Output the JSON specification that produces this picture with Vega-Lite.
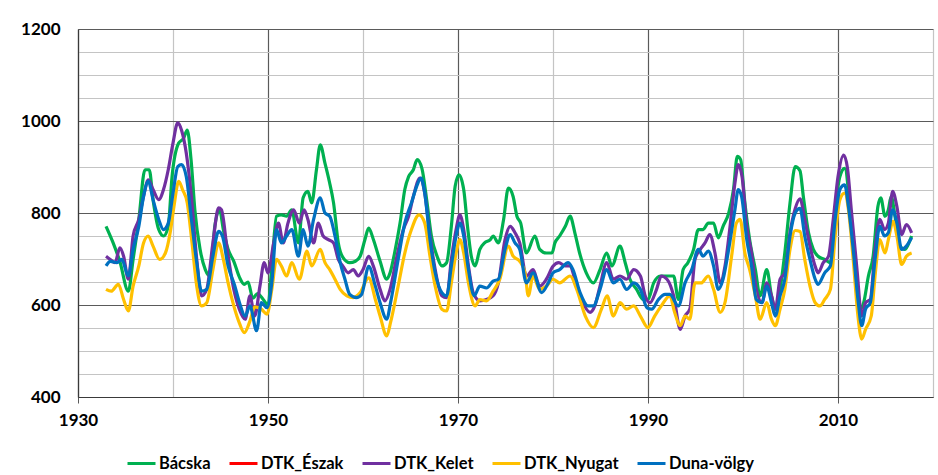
{
  "$schema": "https://vega.github.io/schema/vega-lite/v6.json",
  "width": 855,
  "height": 368,
  "autosize": {"type": "none"},
  "padding": {"left": 78, "top": 29, "right": 5, "bottom": 78},
  "background": "white",
  "config": {
    "view": {"stroke": null},
    "font": "Lato",
    "axis": {"labelFont": "Lato", "labelFontWeight": "bold", "labelFontSize": 17, "labelColor": "#000000", "domainColor": "#3a3a3a", "domainWidth": 1.2, "title": null},
    "legend": {"labelFont": "Lato", "labelFontWeight": "bold", "labelFontSize": 16.5, "labelColor": "#000000"}
  },
  "datasets": {
    "rows": [
{"series":"Bácska","year":1932.95,"value":771},{"series":"Bácska","year":1933.7,"value":735},{"series":"Bácska","year":1934.4,"value":695},{"series":"Bácska","year":1935.3,"value":630},{"series":"Bácska","year":1935.8,"value":699},{"series":"Bácska","year":1936.4,"value":786},{"series":"Bácska","year":1937.05,"value":894},{"series":"Bácska","year":1937.5,"value":894},{"series":"Bácska","year":1937.9,"value":829},{"series":"Bácska","year":1938.5,"value":764},{"series":"Bácska","year":1939.0,"value":750},{"series":"Bácska","year":1939.5,"value":771},{"series":"Bácska","year":1939.9,"value":879},{"series":"Bácska","year":1940.6,"value":952},{"series":"Bácska","year":1941.1,"value":962},{"series":"Bácska","year":1941.5,"value":980},{"series":"Bácska","year":1941.9,"value":916},{"series":"Bácska","year":1942.3,"value":807},{"series":"Bácska","year":1942.85,"value":721},{"series":"Bácska","year":1943.4,"value":677},{"series":"Bácska","year":1943.9,"value":663},{"series":"Bácska","year":1944.4,"value":771},{"series":"Bácska","year":1944.9,"value":807},{"series":"Bácska","year":1945.3,"value":764},{"series":"Bácska","year":1945.8,"value":721},{"series":"Bácska","year":1946.4,"value":695},{"series":"Bácska","year":1947.0,"value":660},{"series":"Bácska","year":1947.5,"value":645},{"series":"Bácska","year":1947.9,"value":650},{"series":"Bácska","year":1948.4,"value":615},{"series":"Bácska","year":1948.9,"value":625},{"series":"Bácska","year":1949.5,"value":612},{"series":"Bácska","year":1950.0,"value":600},{"series":"Bácska","year":1950.4,"value":684},{"series":"Bácska","year":1950.9,"value":793},{"series":"Bácska","year":1951.4,"value":796},{"series":"Bácska","year":1951.96,"value":793},{"series":"Bácska","year":1952.5,"value":807},{"series":"Bácska","year":1953.2,"value":735},{"series":"Bácska","year":1953.7,"value":833},{"series":"Bácska","year":1954.2,"value":847},{"series":"Bácska","year":1954.6,"value":822},{"series":"Bácska","year":1955.1,"value":894},{"series":"Bácska","year":1955.5,"value":948},{"series":"Bácska","year":1956.0,"value":908},{"series":"Bácska","year":1956.45,"value":869},{"series":"Bácska","year":1956.9,"value":822},{"series":"Bácska","year":1957.4,"value":735},{"series":"Bácska","year":1957.9,"value":703},{"series":"Bácska","year":1958.6,"value":692},{"series":"Bácska","year":1959.2,"value":695},{"series":"Bácska","year":1959.7,"value":706},{"series":"Bácska","year":1960.2,"value":742},{"series":"Bácska","year":1960.6,"value":767},{"series":"Bácska","year":1961.1,"value":742},{"series":"Bácska","year":1961.8,"value":695},{"series":"Bácska","year":1962.5,"value":656},{"series":"Bácska","year":1962.85,"value":670},{"series":"Bácska","year":1963.4,"value":721},{"series":"Bácska","year":1963.9,"value":778},{"series":"Bácska","year":1964.4,"value":851},{"series":"Bácska","year":1964.8,"value":879},{"series":"Bácska","year":1965.3,"value":894},{"series":"Bácska","year":1965.7,"value":916},{"series":"Bácska","year":1966.2,"value":897},{"series":"Bácska","year":1966.7,"value":829},{"series":"Bácska","year":1967.2,"value":750},{"series":"Bácska","year":1967.8,"value":706},{"series":"Bácska","year":1968.3,"value":685},{"series":"Bácska","year":1968.8,"value":692},{"series":"Bácska","year":1969.3,"value":771},{"series":"Bácska","year":1969.7,"value":858},{"series":"Bácska","year":1970.1,"value":883},{"series":"Bácska","year":1970.6,"value":851},{"series":"Bácska","year":1971.0,"value":771},{"series":"Bácska","year":1971.4,"value":706},{"series":"Bácska","year":1971.8,"value":685},{"series":"Bácska","year":1972.3,"value":721},{"series":"Bácska","year":1972.8,"value":735},{"series":"Bácska","year":1973.4,"value":742},{"series":"Bácska","year":1973.7,"value":750},{"series":"Bácska","year":1974.25,"value":735},{"series":"Bácska","year":1974.8,"value":786},{"series":"Bácska","year":1975.3,"value":854},{"series":"Bácska","year":1975.8,"value":836},{"series":"Bácska","year":1976.2,"value":793},{"series":"Bácska","year":1976.6,"value":778},{"series":"Bácska","year":1977.2,"value":713},{"series":"Bácska","year":1978.1,"value":750},{"series":"Bácska","year":1978.6,"value":721},{"series":"Bácska","year":1979.3,"value":713},{"series":"Bácska","year":1979.9,"value":713},{"series":"Bácska","year":1980.2,"value":735},{"series":"Bácska","year":1980.7,"value":750},{"series":"Bácska","year":1981.3,"value":771},{"series":"Bácska","year":1981.8,"value":793},{"series":"Bácska","year":1982.3,"value":757},{"series":"Bácska","year":1982.8,"value":713},{"series":"Bácska","year":1983.5,"value":670},{"series":"Bácska","year":1984.25,"value":648},{"series":"Bácska","year":1984.95,"value":677},{"series":"Bácska","year":1985.65,"value":713},{"series":"Bácska","year":1986.2,"value":685},{"series":"Bácska","year":1987.05,"value":728},{"series":"Bácska","year":1987.6,"value":692},{"series":"Bácska","year":1988.1,"value":656},{"series":"Bácska","year":1988.8,"value":634},{"series":"Bácska","year":1989.5,"value":612},{"series":"Bácska","year":1990.0,"value":612},{"series":"Bácska","year":1990.6,"value":648},{"series":"Bácska","year":1991.3,"value":663},{"series":"Bácska","year":1992.0,"value":663},{"series":"Bácska","year":1992.7,"value":663},{"series":"Bácska","year":1993.2,"value":612},{"series":"Bácska","year":1993.7,"value":677},{"series":"Bácska","year":1994.2,"value":692},{"series":"Bácska","year":1994.8,"value":721},{"series":"Bácska","year":1995.3,"value":764},{"series":"Bácska","year":1995.8,"value":764},{"series":"Bácska","year":1996.35,"value":778},{"series":"Bácska","year":1996.9,"value":778},{"series":"Bácska","year":1997.4,"value":746},{"series":"Bácska","year":1997.9,"value":771},{"series":"Bácska","year":1998.5,"value":800},{"series":"Bácska","year":1999.0,"value":851},{"series":"Bácska","year":1999.4,"value":923},{"series":"Bácska","year":1999.75,"value":916},{"series":"Bácska","year":2000.2,"value":822},{"series":"Bácska","year":2000.7,"value":742},{"series":"Bácska","year":2001.3,"value":677},{"series":"Bácska","year":2001.8,"value":620},{"series":"Bácska","year":2002.5,"value":677},{"series":"Bácska","year":2003.0,"value":620},{"series":"Bácska","year":2003.4,"value":591},{"series":"Bácska","year":2003.9,"value":634},{"series":"Bácska","year":2004.4,"value":713},{"series":"Bácska","year":2004.95,"value":822},{"series":"Bácska","year":2005.5,"value":901},{"series":"Bácska","year":2006.0,"value":892},{"series":"Bácska","year":2006.35,"value":836},{"series":"Bácska","year":2006.9,"value":757},{"series":"Bácska","year":2007.4,"value":721},{"series":"Bácska","year":2007.9,"value":706},{"series":"Bácska","year":2008.6,"value":699},{"series":"Bácska","year":2009.2,"value":692},{"series":"Bácska","year":2009.7,"value":807},{"series":"Bácska","year":2010.2,"value":879},{"series":"Bácska","year":2010.7,"value":897},{"series":"Bácska","year":2011.3,"value":807},{"series":"Bácska","year":2011.8,"value":699},{"series":"Bácska","year":2012.3,"value":591},{"series":"Bácska","year":2012.7,"value":605},{"series":"Bácska","year":2013.2,"value":663},{"series":"Bácska","year":2013.7,"value":706},{"series":"Bácska","year":2014.2,"value":814},{"series":"Bácska","year":2014.5,"value":833},{"series":"Bácska","year":2014.95,"value":793},{"series":"Bácska","year":2015.3,"value":807},{"series":"Bácska","year":2015.6,"value":836},{"series":"Bácska","year":2016.0,"value":793},{"series":"Bácska","year":2016.5,"value":728},{"series":"Bácska","year":2017.05,"value":721},{"series":"Bácska","year":2017.6,"value":742},{"series":"Bácska","year":2017.75,"value":750},
{"series":"DTK_Kelet","year":1932.95,"value":706},{"series":"DTK_Kelet","year":1933.4,"value":699},{"series":"DTK_Kelet","year":1933.9,"value":692},{"series":"DTK_Kelet","year":1934.4,"value":724},{"series":"DTK_Kelet","year":1934.8,"value":706},{"series":"DTK_Kelet","year":1935.3,"value":656},{"series":"DTK_Kelet","year":1935.8,"value":750},{"series":"DTK_Kelet","year":1936.4,"value":786},{"series":"DTK_Kelet","year":1936.9,"value":836},{"series":"DTK_Kelet","year":1937.4,"value":872},{"series":"DTK_Kelet","year":1937.9,"value":851},{"series":"DTK_Kelet","year":1938.5,"value":829},{"series":"DTK_Kelet","year":1939.0,"value":851},{"series":"DTK_Kelet","year":1939.5,"value":894},{"series":"DTK_Kelet","year":1940.0,"value":952},{"series":"DTK_Kelet","year":1940.5,"value":996},{"series":"DTK_Kelet","year":1940.9,"value":980},{"series":"DTK_Kelet","year":1941.4,"value":930},{"series":"DTK_Kelet","year":1941.9,"value":843},{"series":"DTK_Kelet","year":1942.5,"value":699},{"series":"DTK_Kelet","year":1943.0,"value":620},{"series":"DTK_Kelet","year":1943.55,"value":634},{"series":"DTK_Kelet","year":1944.2,"value":735},{"series":"DTK_Kelet","year":1944.8,"value":811},{"series":"DTK_Kelet","year":1945.1,"value":807},{"series":"DTK_Kelet","year":1945.7,"value":721},{"series":"DTK_Kelet","year":1946.4,"value":634},{"series":"DTK_Kelet","year":1947.0,"value":590},{"series":"DTK_Kelet","year":1947.6,"value":569},{"series":"DTK_Kelet","year":1948.1,"value":620},{"series":"DTK_Kelet","year":1948.6,"value":576},{"series":"DTK_Kelet","year":1949.15,"value":641},{"series":"DTK_Kelet","year":1949.6,"value":692},{"series":"DTK_Kelet","year":1950.0,"value":670},{"series":"DTK_Kelet","year":1950.6,"value":735},{"series":"DTK_Kelet","year":1951.1,"value":778},{"series":"DTK_Kelet","year":1951.6,"value":735},{"series":"DTK_Kelet","year":1952.1,"value":778},{"series":"DTK_Kelet","year":1952.7,"value":807},{"series":"DTK_Kelet","year":1953.3,"value":778},{"series":"DTK_Kelet","year":1953.8,"value":807},{"series":"DTK_Kelet","year":1954.2,"value":786},{"series":"DTK_Kelet","year":1954.8,"value":735},{"series":"DTK_Kelet","year":1955.3,"value":778},{"series":"DTK_Kelet","year":1955.8,"value":750},{"series":"DTK_Kelet","year":1956.35,"value":742},{"series":"DTK_Kelet","year":1956.9,"value":735},{"series":"DTK_Kelet","year":1957.4,"value":699},{"series":"DTK_Kelet","year":1957.9,"value":684},{"series":"DTK_Kelet","year":1958.45,"value":670},{"series":"DTK_Kelet","year":1958.98,"value":677},{"series":"DTK_Kelet","year":1959.5,"value":663},{"series":"DTK_Kelet","year":1960.0,"value":677},{"series":"DTK_Kelet","year":1960.6,"value":706},{"series":"DTK_Kelet","year":1961.1,"value":684},{"series":"DTK_Kelet","year":1961.8,"value":634},{"series":"DTK_Kelet","year":1962.3,"value":609},{"series":"DTK_Kelet","year":1962.85,"value":634},{"series":"DTK_Kelet","year":1963.5,"value":699},{"series":"DTK_Kelet","year":1964.25,"value":764},{"series":"DTK_Kelet","year":1964.8,"value":793},{"series":"DTK_Kelet","year":1965.3,"value":836},{"series":"DTK_Kelet","year":1966.0,"value":876},{"series":"DTK_Kelet","year":1966.5,"value":843},{"series":"DTK_Kelet","year":1967.05,"value":750},{"series":"DTK_Kelet","year":1967.6,"value":677},{"series":"DTK_Kelet","year":1968.3,"value":620},{"series":"DTK_Kelet","year":1968.8,"value":616},{"series":"DTK_Kelet","year":1969.3,"value":699},{"series":"DTK_Kelet","year":1969.8,"value":764},{"series":"DTK_Kelet","year":1970.2,"value":796},{"series":"DTK_Kelet","year":1970.6,"value":764},{"series":"DTK_Kelet","year":1971.1,"value":685},{"series":"DTK_Kelet","year":1971.6,"value":627},{"series":"DTK_Kelet","year":1972.3,"value":609},{"series":"DTK_Kelet","year":1973.0,"value":612},{"series":"DTK_Kelet","year":1973.7,"value":620},{"series":"DTK_Kelet","year":1974.25,"value":648},{"series":"DTK_Kelet","year":1974.95,"value":742},{"series":"DTK_Kelet","year":1975.5,"value":771},{"series":"DTK_Kelet","year":1976.0,"value":757},{"series":"DTK_Kelet","year":1976.5,"value":735},{"series":"DTK_Kelet","year":1977.2,"value":663},{"series":"DTK_Kelet","year":1977.9,"value":677},{"series":"DTK_Kelet","year":1978.6,"value":641},{"series":"DTK_Kelet","year":1979.3,"value":656},{"series":"DTK_Kelet","year":1980.0,"value":684},{"series":"DTK_Kelet","year":1980.6,"value":692},{"series":"DTK_Kelet","year":1981.3,"value":685},{"series":"DTK_Kelet","year":1981.8,"value":685},{"series":"DTK_Kelet","year":1982.3,"value":656},{"series":"DTK_Kelet","year":1983.0,"value":612},{"series":"DTK_Kelet","year":1983.9,"value":584},{"series":"DTK_Kelet","year":1984.4,"value":598},{"series":"DTK_Kelet","year":1984.95,"value":641},{"series":"DTK_Kelet","year":1985.65,"value":692},{"series":"DTK_Kelet","year":1986.35,"value":656},{"series":"DTK_Kelet","year":1987.05,"value":663},{"series":"DTK_Kelet","year":1987.75,"value":656},{"series":"DTK_Kelet","year":1988.5,"value":677},{"series":"DTK_Kelet","year":1989.2,"value":663},{"series":"DTK_Kelet","year":1989.7,"value":620},{"series":"DTK_Kelet","year":1990.2,"value":605},{"series":"DTK_Kelet","year":1990.9,"value":634},{"series":"DTK_Kelet","year":1991.4,"value":663},{"series":"DTK_Kelet","year":1992.0,"value":656},{"series":"DTK_Kelet","year":1992.7,"value":620},{"series":"DTK_Kelet","year":1993.4,"value":547},{"series":"DTK_Kelet","year":1993.9,"value":576},{"series":"DTK_Kelet","year":1994.4,"value":591},{"series":"DTK_Kelet","year":1994.95,"value":699},{"series":"DTK_Kelet","year":1995.5,"value":721},{"series":"DTK_Kelet","year":1996.0,"value":735},{"series":"DTK_Kelet","year":1996.5,"value":753},{"series":"DTK_Kelet","year":1997.05,"value":713},{"series":"DTK_Kelet","year":1997.6,"value":648},{"series":"DTK_Kelet","year":1998.1,"value":684},{"series":"DTK_Kelet","year":1998.6,"value":764},{"series":"DTK_Kelet","year":1999.15,"value":865},{"series":"DTK_Kelet","year":1999.5,"value":905},{"series":"DTK_Kelet","year":1999.9,"value":879},{"series":"DTK_Kelet","year":2000.4,"value":771},{"series":"DTK_Kelet","year":2000.9,"value":713},{"series":"DTK_Kelet","year":2001.4,"value":634},{"series":"DTK_Kelet","year":2002.0,"value":605},{"series":"DTK_Kelet","year":2002.5,"value":648},{"series":"DTK_Kelet","year":2003.0,"value":620},{"series":"DTK_Kelet","year":2003.4,"value":591},{"series":"DTK_Kelet","year":2003.9,"value":656},{"series":"DTK_Kelet","year":2004.4,"value":670},{"series":"DTK_Kelet","year":2004.95,"value":757},{"series":"DTK_Kelet","year":2005.5,"value":810},{"series":"DTK_Kelet","year":2006.0,"value":831},{"series":"DTK_Kelet","year":2006.5,"value":786},{"series":"DTK_Kelet","year":2007.05,"value":728},{"series":"DTK_Kelet","year":2007.6,"value":684},{"series":"DTK_Kelet","year":2007.9,"value":670},{"series":"DTK_Kelet","year":2008.45,"value":692},{"series":"DTK_Kelet","year":2009.0,"value":706},{"series":"DTK_Kelet","year":2009.5,"value":786},{"series":"DTK_Kelet","year":2010.0,"value":879},{"series":"DTK_Kelet","year":2010.6,"value":926},{"series":"DTK_Kelet","year":2011.0,"value":897},{"series":"DTK_Kelet","year":2011.4,"value":807},{"series":"DTK_Kelet","year":2012.0,"value":677},{"series":"DTK_Kelet","year":2012.5,"value":576},{"series":"DTK_Kelet","year":2012.9,"value":605},{"series":"DTK_Kelet","year":2013.4,"value":612},{"series":"DTK_Kelet","year":2013.9,"value":721},{"series":"DTK_Kelet","year":2014.4,"value":786},{"series":"DTK_Kelet","year":2014.9,"value":764},{"series":"DTK_Kelet","year":2015.3,"value":778},{"series":"DTK_Kelet","year":2015.75,"value":847},{"series":"DTK_Kelet","year":2016.2,"value":814},{"series":"DTK_Kelet","year":2016.7,"value":753},{"series":"DTK_Kelet","year":2017.2,"value":775},{"series":"DTK_Kelet","year":2017.75,"value":757},
{"series":"DTK_Nyugat","year":1932.95,"value":634},{"series":"DTK_Nyugat","year":1933.5,"value":630},{"series":"DTK_Nyugat","year":1934.25,"value":645},{"series":"DTK_Nyugat","year":1934.8,"value":612},{"series":"DTK_Nyugat","year":1935.3,"value":587},{"series":"DTK_Nyugat","year":1935.8,"value":641},{"series":"DTK_Nyugat","year":1936.4,"value":685},{"series":"DTK_Nyugat","year":1936.9,"value":735},{"series":"DTK_Nyugat","year":1937.4,"value":750},{"series":"DTK_Nyugat","year":1937.9,"value":728},{"series":"DTK_Nyugat","year":1938.6,"value":699},{"series":"DTK_Nyugat","year":1939.2,"value":713},{"series":"DTK_Nyugat","year":1939.7,"value":757},{"series":"DTK_Nyugat","year":1940.1,"value":814},{"series":"DTK_Nyugat","year":1940.6,"value":869},{"series":"DTK_Nyugat","year":1941.0,"value":851},{"series":"DTK_Nyugat","year":1941.5,"value":822},{"series":"DTK_Nyugat","year":1942.0,"value":735},{"series":"DTK_Nyugat","year":1942.5,"value":641},{"series":"DTK_Nyugat","year":1943.0,"value":598},{"series":"DTK_Nyugat","year":1943.55,"value":605},{"series":"DTK_Nyugat","year":1944.2,"value":677},{"series":"DTK_Nyugat","year":1944.8,"value":735},{"series":"DTK_Nyugat","year":1945.3,"value":699},{"series":"DTK_Nyugat","year":1945.8,"value":648},{"series":"DTK_Nyugat","year":1946.4,"value":598},{"series":"DTK_Nyugat","year":1947.0,"value":560},{"series":"DTK_Nyugat","year":1947.5,"value":540},{"series":"DTK_Nyugat","year":1948.1,"value":565},{"series":"DTK_Nyugat","year":1948.6,"value":596},{"series":"DTK_Nyugat","year":1949.3,"value":591},{"series":"DTK_Nyugat","year":1949.9,"value":580},{"series":"DTK_Nyugat","year":1950.4,"value":634},{"series":"DTK_Nyugat","year":1950.9,"value":699},{"series":"DTK_Nyugat","year":1951.4,"value":685},{"series":"DTK_Nyugat","year":1951.96,"value":663},{"series":"DTK_Nyugat","year":1952.5,"value":692},{"series":"DTK_Nyugat","year":1953.3,"value":656},{"series":"DTK_Nyugat","year":1954.1,"value":717},{"series":"DTK_Nyugat","year":1954.6,"value":685},{"series":"DTK_Nyugat","year":1955.5,"value":721},{"series":"DTK_Nyugat","year":1956.0,"value":692},{"series":"DTK_Nyugat","year":1956.5,"value":677},{"series":"DTK_Nyugat","year":1957.05,"value":656},{"series":"DTK_Nyugat","year":1957.6,"value":634},{"series":"DTK_Nyugat","year":1958.3,"value":620},{"series":"DTK_Nyugat","year":1958.98,"value":616},{"series":"DTK_Nyugat","year":1959.7,"value":627},{"series":"DTK_Nyugat","year":1960.6,"value":659},{"series":"DTK_Nyugat","year":1961.3,"value":612},{"series":"DTK_Nyugat","year":1961.8,"value":576},{"series":"DTK_Nyugat","year":1962.5,"value":533},{"series":"DTK_Nyugat","year":1962.9,"value":562},{"series":"DTK_Nyugat","year":1963.7,"value":641},{"series":"DTK_Nyugat","year":1964.4,"value":713},{"series":"DTK_Nyugat","year":1965.1,"value":764},{"series":"DTK_Nyugat","year":1965.9,"value":796},{"series":"DTK_Nyugat","year":1966.5,"value":778},{"series":"DTK_Nyugat","year":1967.05,"value":706},{"series":"DTK_Nyugat","year":1967.6,"value":641},{"series":"DTK_Nyugat","year":1968.3,"value":591},{"series":"DTK_Nyugat","year":1968.8,"value":587},{"series":"DTK_Nyugat","year":1969.3,"value":648},{"series":"DTK_Nyugat","year":1969.8,"value":713},{"series":"DTK_Nyugat","year":1970.2,"value":742},{"series":"DTK_Nyugat","year":1970.6,"value":713},{"series":"DTK_Nyugat","year":1971.1,"value":648},{"series":"DTK_Nyugat","year":1971.8,"value":598},{"series":"DTK_Nyugat","year":1972.3,"value":612},{"series":"DTK_Nyugat","year":1973.0,"value":609},{"series":"DTK_Nyugat","year":1973.7,"value":630},{"series":"DTK_Nyugat","year":1974.4,"value":656},{"series":"DTK_Nyugat","year":1975.3,"value":728},{"series":"DTK_Nyugat","year":1975.8,"value":706},{"series":"DTK_Nyugat","year":1976.5,"value":695},{"series":"DTK_Nyugat","year":1977.05,"value":670},{"series":"DTK_Nyugat","year":1977.4,"value":620},{"series":"DTK_Nyugat","year":1977.9,"value":663},{"series":"DTK_Nyugat","year":1978.6,"value":634},{"series":"DTK_Nyugat","year":1979.3,"value":641},{"series":"DTK_Nyugat","year":1980.0,"value":656},{"series":"DTK_Nyugat","year":1980.7,"value":648},{"series":"DTK_Nyugat","year":1981.8,"value":663},{"series":"DTK_Nyugat","year":1982.5,"value":634},{"series":"DTK_Nyugat","year":1983.4,"value":576},{"series":"DTK_Nyugat","year":1984.25,"value":551},{"series":"DTK_Nyugat","year":1985.1,"value":591},{"series":"DTK_Nyugat","year":1985.7,"value":620},{"series":"DTK_Nyugat","year":1986.35,"value":576},{"series":"DTK_Nyugat","year":1987.05,"value":605},{"series":"DTK_Nyugat","year":1987.75,"value":591},{"series":"DTK_Nyugat","year":1988.5,"value":598},{"series":"DTK_Nyugat","year":1989.2,"value":576},{"series":"DTK_Nyugat","year":1990.0,"value":551},{"series":"DTK_Nyugat","year":1990.7,"value":576},{"series":"DTK_Nyugat","year":1991.4,"value":598},{"series":"DTK_Nyugat","year":1992.3,"value":620},{"series":"DTK_Nyugat","year":1992.8,"value":584},{"series":"DTK_Nyugat","year":1993.4,"value":555},{"series":"DTK_Nyugat","year":1993.9,"value":576},{"series":"DTK_Nyugat","year":1994.4,"value":569},{"series":"DTK_Nyugat","year":1994.95,"value":648},{"series":"DTK_Nyugat","year":1995.6,"value":648},{"series":"DTK_Nyugat","year":1996.35,"value":663},{"series":"DTK_Nyugat","year":1996.9,"value":634},{"series":"DTK_Nyugat","year":1997.6,"value":584},{"series":"DTK_Nyugat","year":1998.1,"value":605},{"series":"DTK_Nyugat","year":1998.8,"value":706},{"series":"DTK_Nyugat","year":1999.3,"value":778},{"series":"DTK_Nyugat","year":1999.7,"value":786},{"series":"DTK_Nyugat","year":2000.2,"value":713},{"series":"DTK_Nyugat","year":2000.7,"value":677},{"series":"DTK_Nyugat","year":2001.3,"value":620},{"series":"DTK_Nyugat","year":2001.8,"value":569},{"series":"DTK_Nyugat","year":2002.5,"value":605},{"series":"DTK_Nyugat","year":2003.0,"value":569},{"series":"DTK_Nyugat","year":2003.4,"value":555},{"series":"DTK_Nyugat","year":2003.9,"value":591},{"series":"DTK_Nyugat","year":2004.4,"value":634},{"series":"DTK_Nyugat","year":2004.95,"value":721},{"series":"DTK_Nyugat","year":2005.5,"value":762},{"series":"DTK_Nyugat","year":2006.0,"value":760},{"series":"DTK_Nyugat","year":2006.5,"value":699},{"series":"DTK_Nyugat","year":2007.05,"value":641},{"series":"DTK_Nyugat","year":2007.6,"value":605},{"series":"DTK_Nyugat","year":2008.1,"value":598},{"series":"DTK_Nyugat","year":2008.6,"value":612},{"series":"DTK_Nyugat","year":2009.2,"value":634},{"series":"DTK_Nyugat","year":2009.7,"value":750},{"series":"DTK_Nyugat","year":2010.2,"value":829},{"series":"DTK_Nyugat","year":2010.7,"value":843},{"series":"DTK_Nyugat","year":2011.1,"value":807},{"series":"DTK_Nyugat","year":2011.6,"value":699},{"series":"DTK_Nyugat","year":2012.1,"value":576},{"series":"DTK_Nyugat","year":2012.5,"value":526},{"series":"DTK_Nyugat","year":2012.9,"value":547},{"series":"DTK_Nyugat","year":2013.5,"value":576},{"series":"DTK_Nyugat","year":2013.9,"value":663},{"series":"DTK_Nyugat","year":2014.4,"value":742},{"series":"DTK_Nyugat","year":2014.95,"value":713},{"series":"DTK_Nyugat","year":2015.3,"value":742},{"series":"DTK_Nyugat","year":2015.8,"value":782},{"series":"DTK_Nyugat","year":2016.2,"value":750},{"series":"DTK_Nyugat","year":2016.7,"value":688},{"series":"DTK_Nyugat","year":2017.2,"value":706},{"series":"DTK_Nyugat","year":2017.75,"value":713},
{"series":"Duna-völgy","year":1932.95,"value":685},{"series":"Duna-völgy","year":1933.4,"value":695},{"series":"Duna-völgy","year":1934.1,"value":692},{"series":"Duna-völgy","year":1934.6,"value":699},{"series":"Duna-völgy","year":1935.3,"value":663},{"series":"Duna-völgy","year":1935.8,"value":721},{"series":"Duna-völgy","year":1936.4,"value":771},{"series":"Duna-völgy","year":1936.9,"value":836},{"series":"Duna-völgy","year":1937.4,"value":869},{"series":"Duna-völgy","year":1937.9,"value":829},{"series":"Duna-völgy","year":1938.5,"value":786},{"series":"Duna-völgy","year":1939.0,"value":764},{"series":"Duna-völgy","year":1939.5,"value":778},{"series":"Duna-völgy","year":1940.0,"value":843},{"series":"Duna-völgy","year":1940.5,"value":901},{"series":"Duna-völgy","year":1940.9,"value":905},{"series":"Duna-völgy","year":1941.4,"value":879},{"series":"Duna-völgy","year":1941.9,"value":793},{"series":"Duna-völgy","year":1942.5,"value":692},{"series":"Duna-völgy","year":1943.0,"value":630},{"series":"Duna-völgy","year":1943.55,"value":634},{"series":"Duna-völgy","year":1944.2,"value":706},{"series":"Duna-völgy","year":1944.8,"value":760},{"series":"Duna-völgy","year":1945.2,"value":750},{"series":"Duna-völgy","year":1945.8,"value":685},{"series":"Duna-völgy","year":1946.5,"value":642},{"series":"Duna-völgy","year":1947.0,"value":605},{"series":"Duna-völgy","year":1947.6,"value":576},{"series":"Duna-völgy","year":1948.1,"value":598},{"series":"Duna-völgy","year":1948.8,"value":544},{"series":"Duna-völgy","year":1949.3,"value":605},{"series":"Duna-völgy","year":1949.9,"value":594},{"series":"Duna-völgy","year":1950.4,"value":648},{"series":"Duna-völgy","year":1950.9,"value":764},{"series":"Duna-völgy","year":1951.4,"value":735},{"series":"Duna-völgy","year":1951.96,"value":750},{"series":"Duna-völgy","year":1952.5,"value":764},{"series":"Duna-völgy","year":1953.2,"value":706},{"series":"Duna-völgy","year":1953.7,"value":764},{"series":"Duna-völgy","year":1954.2,"value":728},{"series":"Duna-völgy","year":1954.8,"value":786},{"series":"Duna-völgy","year":1955.5,"value":833},{"series":"Duna-völgy","year":1956.0,"value":800},{"series":"Duna-völgy","year":1956.5,"value":793},{"series":"Duna-völgy","year":1957.05,"value":750},{"series":"Duna-völgy","year":1957.6,"value":692},{"series":"Duna-völgy","year":1958.1,"value":656},{"series":"Duna-völgy","year":1958.6,"value":623},{"series":"Duna-völgy","year":1959.3,"value":616},{"series":"Duna-völgy","year":1959.85,"value":623},{"series":"Duna-völgy","year":1960.6,"value":684},{"series":"Duna-völgy","year":1961.3,"value":641},{"series":"Duna-völgy","year":1961.8,"value":605},{"series":"Duna-völgy","year":1962.5,"value":569},{"series":"Duna-völgy","year":1962.9,"value":605},{"series":"Duna-völgy","year":1963.7,"value":699},{"series":"Duna-völgy","year":1964.4,"value":778},{"series":"Duna-völgy","year":1965.1,"value":822},{"series":"Duna-völgy","year":1965.65,"value":858},{"series":"Duna-völgy","year":1966.1,"value":876},{"series":"Duna-völgy","year":1966.5,"value":843},{"series":"Duna-völgy","year":1967.05,"value":742},{"series":"Duna-völgy","year":1967.6,"value":670},{"series":"Duna-völgy","year":1968.3,"value":627},{"series":"Duna-völgy","year":1968.8,"value":620},{"series":"Duna-völgy","year":1969.3,"value":685},{"series":"Duna-völgy","year":1969.8,"value":750},{"series":"Duna-völgy","year":1970.2,"value":778},{"series":"Duna-völgy","year":1970.6,"value":750},{"series":"Duna-völgy","year":1971.1,"value":677},{"series":"Duna-völgy","year":1971.7,"value":620},{"series":"Duna-völgy","year":1972.3,"value":641},{"series":"Duna-völgy","year":1973.0,"value":637},{"series":"Duna-völgy","year":1973.7,"value":652},{"series":"Duna-völgy","year":1974.25,"value":656},{"series":"Duna-völgy","year":1974.95,"value":721},{"series":"Duna-völgy","year":1975.5,"value":753},{"series":"Duna-völgy","year":1976.0,"value":735},{"series":"Duna-völgy","year":1976.5,"value":721},{"series":"Duna-völgy","year":1977.2,"value":648},{"series":"Duna-völgy","year":1977.9,"value":670},{"series":"Duna-völgy","year":1978.8,"value":627},{"series":"Duna-völgy","year":1979.5,"value":648},{"series":"Duna-völgy","year":1980.0,"value":670},{"series":"Duna-völgy","year":1980.7,"value":677},{"series":"Duna-völgy","year":1981.6,"value":692},{"series":"Duna-völgy","year":1982.1,"value":677},{"series":"Duna-völgy","year":1982.85,"value":627},{"series":"Duna-völgy","year":1983.7,"value":598},{"series":"Duna-völgy","year":1984.25,"value":598},{"series":"Duna-völgy","year":1984.95,"value":634},{"series":"Duna-völgy","year":1985.65,"value":677},{"series":"Duna-völgy","year":1986.35,"value":648},{"series":"Duna-völgy","year":1987.05,"value":656},{"series":"Duna-völgy","year":1987.75,"value":634},{"series":"Duna-völgy","year":1988.5,"value":648},{"series":"Duna-völgy","year":1989.2,"value":634},{"series":"Duna-völgy","year":1989.9,"value":594},{"series":"Duna-völgy","year":1990.4,"value":591},{"series":"Duna-völgy","year":1991.1,"value":612},{"series":"Duna-völgy","year":1991.8,"value":623},{"series":"Duna-völgy","year":1992.3,"value":623},{"series":"Duna-völgy","year":1993.2,"value":598},{"series":"Duna-völgy","year":1993.9,"value":648},{"series":"Duna-völgy","year":1994.6,"value":677},{"series":"Duna-völgy","year":1995.3,"value":721},{"series":"Duna-völgy","year":1995.8,"value":706},{"series":"Duna-völgy","year":1996.35,"value":717},{"series":"Duna-völgy","year":1996.9,"value":685},{"series":"Duna-völgy","year":1997.4,"value":634},{"series":"Duna-völgy","year":1997.9,"value":656},{"series":"Duna-völgy","year":1998.6,"value":735},{"series":"Duna-völgy","year":1999.15,"value":807},{"series":"Duna-völgy","year":1999.5,"value":851},{"series":"Duna-völgy","year":1999.85,"value":836},{"series":"Duna-völgy","year":2000.4,"value":742},{"series":"Duna-völgy","year":2000.9,"value":685},{"series":"Duna-völgy","year":2001.4,"value":612},{"series":"Duna-völgy","year":2002.0,"value":605},{"series":"Duna-völgy","year":2002.5,"value":641},{"series":"Duna-völgy","year":2003.0,"value":605},{"series":"Duna-völgy","year":2003.4,"value":576},{"series":"Duna-völgy","year":2003.9,"value":620},{"series":"Duna-völgy","year":2004.4,"value":656},{"series":"Duna-völgy","year":2004.95,"value":750},{"series":"Duna-völgy","year":2005.5,"value":800},{"series":"Duna-völgy","year":2006.0,"value":810},{"series":"Duna-völgy","year":2006.5,"value":750},{"series":"Duna-völgy","year":2007.05,"value":699},{"series":"Duna-völgy","year":2007.6,"value":656},{"series":"Duna-völgy","year":2007.9,"value":645},{"series":"Duna-völgy","year":2008.6,"value":670},{"series":"Duna-völgy","year":2009.2,"value":685},{"series":"Duna-völgy","year":2009.7,"value":786},{"series":"Duna-völgy","year":2010.2,"value":851},{"series":"Duna-völgy","year":2010.7,"value":861},{"series":"Duna-völgy","year":2011.1,"value":814},{"series":"Duna-völgy","year":2011.6,"value":721},{"series":"Duna-völgy","year":2012.1,"value":612},{"series":"Duna-völgy","year":2012.5,"value":555},{"series":"Duna-völgy","year":2012.9,"value":591},{"series":"Duna-völgy","year":2013.4,"value":605},{"series":"Duna-völgy","year":2013.9,"value":699},{"series":"Duna-völgy","year":2014.4,"value":771},{"series":"Duna-völgy","year":2014.9,"value":750},{"series":"Duna-völgy","year":2015.3,"value":757},{"series":"Duna-völgy","year":2015.75,"value":807},{"series":"Duna-völgy","year":2016.2,"value":778},{"series":"Duna-völgy","year":2016.7,"value":721},{"series":"Duna-völgy","year":2017.2,"value":728},{"series":"Duna-völgy","year":2017.75,"value":746}
    ]
  },
  "data": {"name": "rows"},
  "mark": {"type": "line", "strokeWidth": 3.2, "interpolate": "monotone", "clip": true},
  "encoding": {
    "x": {
      "field": "year", "type": "quantitative",
      "scale": {"domain": [1930, 2020], "nice": false, "zero": false},
      "axis": {
        "values": [1930, 1940, 1950, 1960, 1970, 1980, 1990, 2000, 2010, 2020],
        "labelExpr": "datum.value % 20 === 10 ? datum.label : ''",
        "format": "d",
        "grid": true,
        "gridColor": {"condition": {"test": "datum.value % 20 === 10", "value": "#5a5a5a"}, "value": "#c4c4c4"},
        "gridWidth": 1.2,
        "tickColor": {"condition": {"test": "datum.value % 20 === 10", "value": "#5a5a5a"}, "value": "transparent"},
        "tickSize": 6,
        "labelPadding": 9,
        "labelFlush": false,
        "labelOverlap": false
      }
    },
    "y": {
      "field": "value", "type": "quantitative",
      "scale": {"domain": [400, 1200], "nice": false, "zero": false},
      "axis": {
        "values": [400, 450, 500, 550, 600, 650, 700, 750, 800, 850, 900, 950, 1000, 1050, 1100, 1150, 1200],
        "labelExpr": "datum.value % 200 === 0 ? datum.label : ''",
        "format": "d",
        "grid": true,
        "gridColor": {"condition": {"test": "datum.value % 200 === 0", "value": "#5a5a5a"}, "value": "#c4c4c4"},
        "gridWidth": 1.2,
        "ticks": false,
        "labelPadding": 18,
        "labelOverlap": false
      }
    },
    "color": {
      "field": "series", "type": "nominal",
      "scale": {
        "domain": ["Bácska", "DTK_Észak", "DTK_Kelet", "DTK_Nyugat", "Duna-völgy"],
        "range": ["#00B050", "#FF0000", "#7030A0", "#FFC000", "#0070C0"]
      },
      "legend": {
        "title": null,
        "orient": "none",
        "legendX": 48,
        "legendY": 419,
        "direction": "horizontal",
        "symbolType": "stroke",
        "symbolStrokeWidth": 3,
        "symbolSize": 784,
        "labelOffset": 2,
        "columnPadding": 12
      }
    }
  }
}
